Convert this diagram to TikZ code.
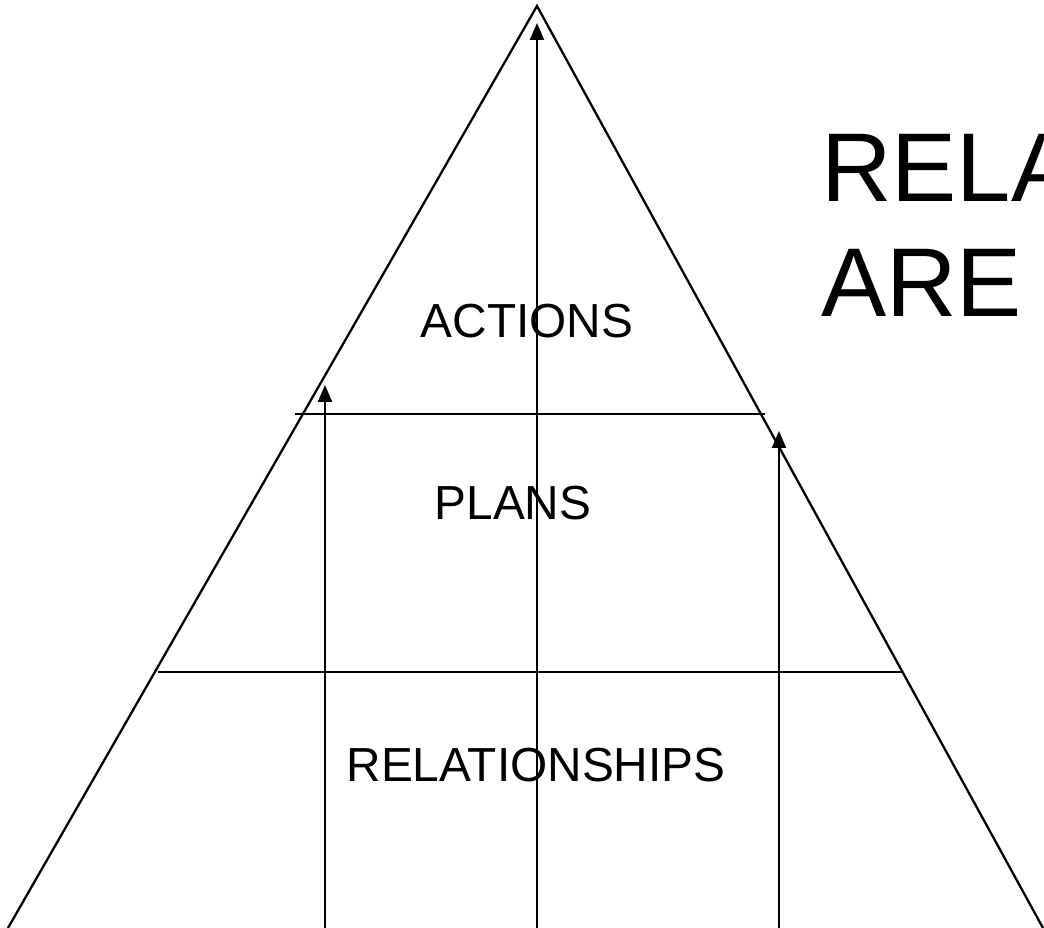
\documentclass[tikz,border=0pt]{standalone}
\usepackage{fontspec}
\setmainfont{Liberation Sans}
\usetikzlibrary{arrows.meta}

\begin{document}
\begin{tikzpicture}[line width=0.65pt,
  level/.style={font=\fontsize{13.6}{16}\selectfont, anchor=base},
  rise/.style={-{Triangle[length=0.17cm,width=0.14cm]}}]
\useasboundingbox (0,0) rectangle (10.44,9.28);
%% pyramid

\coordinate (top) at (5.37,9.22);
\coordinate (left) at (0.08,0);
\coordinate (right) at (10.43,0);
\draw (left) -- (top) -- (right);

\draw (2.95,5.14) -- (7.65,5.14);
\draw (1.58,2.56) -- (9.02,2.56);

\node[level] (actions) at (5.27,5.90) {ACTIONS};
\node[level] (plans) at (5.13,4.08) {PLANS};
\node[level] (relationships) at (5.36,1.46) {RELATIONSHIPS};

%% arrows up through the levels
\coordinate (lbase) at (3.25,0);
\coordinate (ltip) at (3.25,5.43);
\coordinate (cbase) at (5.37,0);
\coordinate (ctip) at (5.37,9.05);
\coordinate (rbase) at (7.79,0);
\coordinate (rtip) at (7.79,4.97);
\draw[rise] (lbase) -- (ltip);
\draw[rise] (cbase) -- (ctip);
\draw[rise] (rbase) -- (rtip);

\node[anchor=base west, align=left, inner sep=0pt,
  font=\fontsize{27.8}{32.8}\selectfont] (title) at (8.20,6.11) {RELA\\ARE};

\end{tikzpicture}
\end{document}
